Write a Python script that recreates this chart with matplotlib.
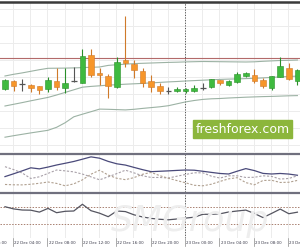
import matplotlib
matplotlib.use('Agg')
import matplotlib.pyplot as plt
from matplotlib import font_manager
import pandas as pd
import numpy as np

# ---------------- data ----------------
times = pd.date_range('2023-12-22 03:00', periods=35, freq='h')

opens  = [61, 69, 66, 65, 64, 61, 69, 62, 69, 67.5, 95, 77.5, 74, 63, 90, 86, 79, 69, 64, 59,
          59, 59, 59.5, 62, 62.7, 70, 65, 68.3, 74, 75.5, 70.5, 62, 73.3, 82.5, 69.5]
highs  = [71, 70, 71, 66, 64.5, 73, 82, 82, 83, 101, 101, 82, 76, 93, 134, 90, 82, 75, 67, 63.5,
          63, 62.5, 65, 67, 71.5, 70.5, 70, 78.3, 78.5, 81.5, 72.5, 74.5, 93.3, 87.3, 81]
lows   = [60, 59, 59, 58, 56, 58, 60, 57, 68, 67, 73, 65, 52, 62.5, 83.5, 72, 63, 58.5, 56, 56,
          58.5, 57.5, 58.5, 60.5, 62.5, 65, 64.5, 67, 73, 67, 62.5, 60.5, 73, 70, 65]
closes = [70, 64, 66, 62.5, 60.5, 70, 63, 67, 69, 94, 75, 75.5, 64, 88, 87.5, 80, 67.5, 63, 59, 59,
          61.5, 61, 62.5, 62, 70.7, 66.7, 69.5, 76, 76.7, 69.5, 64, 74, 84, 70.7, 80]

band_upper = [74, 75.7, 77.1, 78.7, 80.3, 81.7, 81.8, 81.9, 82.1, 82.4, 82.7, 83, 84.6, 85.3, 85.8,
              86.4, 86.7, 87, 87.3, 87.6, 87.8, 88.1, 88.3, 88.5, 88.4, 88.3, 88.2, 88.1, 88, 88.2,
              88.7, 89.1, 89.5, 89.7, 90]
band_mid = [44, 45.7, 47.4, 49.2, 50.9, 52.6, 55, 57.6, 60.2, 62.8, 63.6, 64.2, 64.9, 65.3, 65.8,
            66.2, 66.6, 67.1, 67.6, 68.1, 68.5, 69, 69.4, 69.8, 70.2, 70.6, 70.9, 71.1, 71.4, 71.7,
            72.1, 72.6, 73.1, 73.5, 73.9]
band_lower = [12.8, 14.3, 15.7, 17.1, 18.4, 19.7, 22.7, 27.3, 33.2, 35.8, 38.3, 40.9, 40.7, 40.4,
              40.1, 40.7, 41.6, 42.4, 43.2, 44.3, 46.2, 48.1, 49.5, 50.6, 51.2, 51.5, 52, 52.4,
              52.8, 53.1, 53.4, 53.6, 53.9, 54.2, 54.4]
resistance = 91.7

adx = [21.6, 25.8, 30.2, 34.8, 33.2, 35.9, 39, 41.6, 44.3, 47.7, 51.2, 49.2, 44.4, 40.8, 38.9, 35.4,
       32, 29, 29.6, 30.2, 30.9, 31.5, 31.2, 29.6, 27.9, 26.3, 25.5, 29.7, 33.6, 30.6, 26.4, 25.5,
       26.3, 25.4, 23.6]
di_plus = [36.5, 32.1, 27, 18.8, 21.3, 26.4, 31.5, 30.2, 28.7, 25.4, 21.2, 16.8, 21.3, 26.1, 31.2,
           27.2, 22.8, 20.3, 20.3, 19.5, 22.2, 24.8, 27.3, 27.3, 22.2, 19.4, 22.8, 22.8, 20.3, 20.6,
           22.8, 21.9, 17.9, 18.8, 22.8]
di_minus = [9.8, 9.3, 9.2, 10.1, 11.6, 13.5, 11.4, 7.8, 10.7, 16.7, 25.2, 31.2, 23.9, 19.1, 17,
            20.1, 25.1, 27.9, 23, 19.1, 15.6, 12.3, 8.6, 7.8, 10.2, 14.4, 18.2, 20, 12.6, 9.3, 15.8,
            16.1, 12.8, 13.1, 15.9]

rsi = [70.7, 65.5, 62.9, 62.5, 58, 66.7, 56.6, 59.9, 60.6, 76.4, 61.3, 55.4, 47.2, 60.6, 59.2, 51.6,
       46.5, 43.2, 41.1, 39.9, 41.8, 43.9, 46, 52.8, 52.8, 54, 58.2, 60.6, 62.7, 54.7, 45.1, 54.9,
       65.1, 54.2, 57.8]
rsi_levels = [70, 30]

# ---------------- layout ----------------
W, H = 300, 250
fig = plt.figure(figsize=(W / 100, H / 100), dpi=100)
fig.patch.set_facecolor('white')

def ax_at(y_top, y_bot):
    ax = fig.add_axes([0, 1 - y_bot / H, 1, (y_bot - y_top) / H])
    ax.set_facecolor('none')
    ax.set_xticks([])
    ax.set_yticks([])
    for s in ax.spines.values():
        s.set_visible(False)
    return ax

n = len(times)
idx = np.arange(n)
XL = (-0.58, 34.30)

ax1 = ax_at(3, 152)
ax2 = ax_at(154, 192)
ax3 = ax_at(193, 238)
for ax in (ax1, ax2, ax3):
    ax.set_xlim(*XL)

ax1.set_ylim(-2, 147)
ax2.set_ylim(-1.5, 55.5)
ax3.set_ylim(-2.9, 102.9)

grid_c = '#ececec'
grid_x = [i for i in range(-1, n) if (3 + i) % 2 == 0]
label_x = [i for i in range(-3, n) if (3 + i) % 4 == 0]
for ax in (ax1, ax2, ax3):
    for gx in grid_x:
        ax.axvline(gx - 0.08, color=grid_c, lw=0.7, zorder=0)
for gy in np.arange(5, 147, 17):
    ax1.axhline(gy, color=grid_c, lw=0.7, zorder=0)

# day separator
day_i = [i for i in range(n) if times[i].hour == 0]
for ax in (ax1, ax2, ax3):
    for d in day_i:
        ax.axvline(d - 0.08, color='#555555', lw=0.7, ls=(0, (1.2, 1.5)), zorder=1)

# bands and level line
band_c = '#9cb2a4'
ax1.plot(idx, band_upper, color=band_c, lw=0.8, zorder=2)
ax1.plot(idx, band_mid, color=band_c, lw=0.8, zorder=2)
ax1.plot(idx, band_lower, color=band_c, lw=0.8, zorder=2)
ax1.axhline(resistance, color='#b36a6a', lw=0.8, zorder=2)

# candles
green, green_e = '#3fba3f', '#2a8f2a'
orange, orange_e = '#f7962a', '#cf7a2a'
bw = 0.64
for i in range(n):
    o, h, l, c = opens[i], highs[i], lows[i], closes[i]
    if c > o:
        fc, ec = green, green_e
    elif c < o:
        fc, ec = orange, orange_e
    else:
        fc, ec = '#555555', '#555555'
    ax1.vlines(i, l, h, color=ec, lw=0.8, zorder=3)
    if c == o:
        ax1.hlines(o, i - bw / 2, i + bw / 2, color=ec, lw=0.9, zorder=4)
    else:
        ax1.bar(i, abs(c - o), bottom=min(o, c), width=bw, color=fc, edgecolor=ec,
                linewidth=0.4, zorder=4)

# watermark box
fig.patches.append(plt.Rectangle((193 / W, 1 - 138 / H), 99 / W, 18 / H,
                                 transform=fig.transFigure, color='#8cb63c', zorder=5))
fig.text(242.5 / W, 1 - 129.5 / H, 'freshforex.com', color='white', fontsize=9,
         ha='center', va='center', zorder=6)

# panel 3 background watermark
fig.text(190 / W, 1 - 238.5 / H, 'SMGroup', fontsize=25, color='#eeeeee',
         ha='center', va='bottom', fontstyle='italic', zorder=0.5)

# panel 2
ax2.plot(idx, adx, color='#4a4a7a', lw=0.9, zorder=3)
ax2.plot(idx, di_plus, color='#a8a0a8', lw=0.8, ls=(0, (2, 1.5)), zorder=3)
ax2.plot(idx, di_minus, color='#b0a090', lw=0.8, ls=(0, (2, 1.5)), zorder=3)

# panel 3
for lv in rsi_levels:
    ax3.axhline(lv, color='#a88070', lw=0.7, ls=(0, (1.5, 1.5)), zorder=2)
ax3.plot(idx, rsi, color='#555560', lw=0.9, zorder=3)

# separators / top line
sep_c = '#70707e'
for yy in (153.5, 192.5):
    fig.add_artist(plt.Line2D([0, 1], [1 - yy / H] * 2, transform=fig.transFigure,
                              color=sep_c, lw=1.6))
fig.add_artist(plt.Line2D([0, 1], [1 - 1.5 / H] * 2, transform=fig.transFigure,
                          color='#3a3a3a', lw=1.8))

# time labels
names = {f.name for f in font_manager.fontManager.ttflist}
if 'Liberation Sans Narrow' in names:
    lab_font, lab_size = 'Liberation Sans Narrow', 3.6
else:
    lab_font, lab_size = 'DejaVu Sans', 2.9
x0, x1 = XL
for li in label_x:
    px = (li - 0.08 - x0) / (x1 - x0)
    fig.add_artist(plt.Line2D([px, px], [1 - 238 / H, 1 - 246 / H], transform=fig.transFigure,
                              color='#888888', lw=0.5))
    t = times[0] + pd.Timedelta(hours=int(li))
    fig.text(px + 1.2 / W, 1 - 242.5 / H, t.strftime('%d %b %H:%M'), fontsize=lab_size,
             family=lab_font, color='#3a3a4a', ha='left', va='center')

fig.savefig('out.png', dpi=100)
